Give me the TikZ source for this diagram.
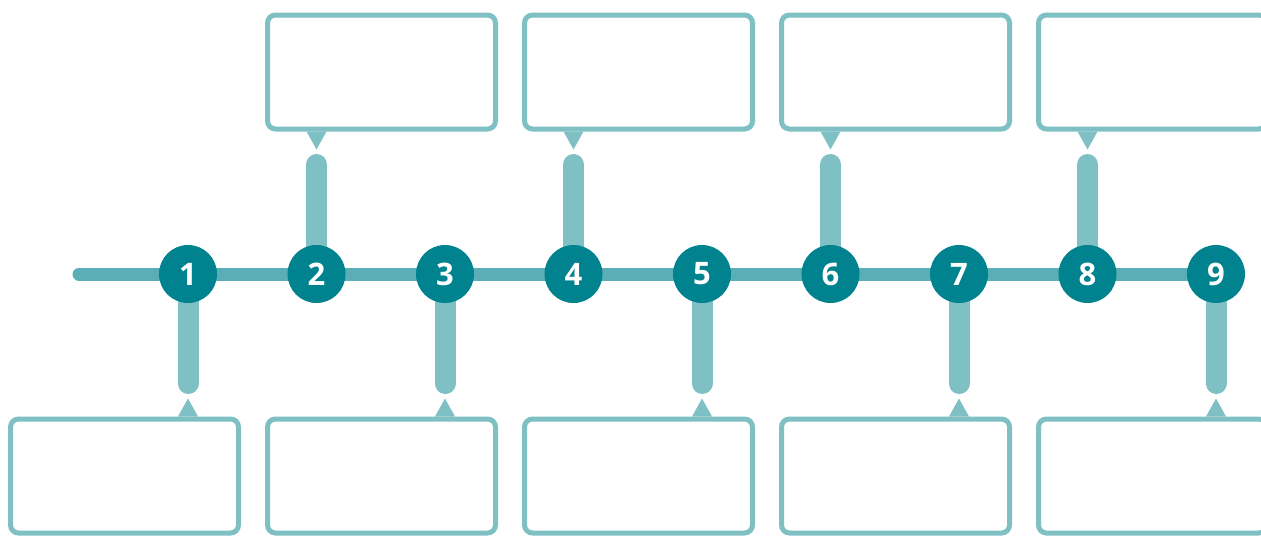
\documentclass[tikz,border=0pt]{standalone}
\usepackage{fontspec}
\usepackage{tikz}
\usetikzlibrary{calc,backgrounds}
\newfontfamily\numfont{Open Sans}
\definecolor{tealdark}{RGB}{0,130,143}
\definecolor{tealline}{RGB}{90,174,181}
\definecolor{teallight}{RGB}{127,192,197}

\begin{document}
\begin{tikzpicture}[x=1pt,y=-1pt,
  stepdot/.style={circle,fill=tealdark,minimum size=58pt,inner sep=0pt,text=white,
    font=\numfont\bfseries\fontsize{31}{31}\selectfont},
  callout/.style={draw=teallight,line width=5pt,rounded corners=8pt,fill=white,
    minimum width=228pt,minimum height=114pt,inner sep=0pt},
  stem/.style={teallight,line width=21pt,line cap=round},
  pointer/.style={fill=teallight}]
\useasboundingbox (0,0) rectangle (1261,536);

%Step circles on the time line
\foreach \i in {1,...,9}
  \node[stepdot] (c\i) at ({188+(\i-1)*128.5},274) {\i};

%Call-out boxes, odd steps below and even steps above
\foreach \i in {1,...,9} {
  \pgfmathtruncatemacro{\col}{\i/2}
  \pgfmathtruncatemacro{\up}{1-mod(\i,2)}
  \ifnum\up=1
    \node[callout] (b\i) at ({124.5+257*\col},72) {};
    \coordinate (t\i) at (c\i |- b\i.south);
    \fill[pointer] (t\i) ++(-10,0) -- ++(10,18) -- ++(10,-18) -- cycle;
    \coordinate (s\i) at ($(t\i)+(0,33)$);
  \else
    \node[callout] (b\i) at ({124.5+257*\col},476) {};
    \coordinate (t\i) at (c\i |- b\i.north);
    \fill[pointer] (t\i) ++(-10,0) -- ++(10,-18) -- ++(10,18) -- cycle;
    \coordinate (s\i) at ($(t\i)+(0,-33)$);
  \fi
}

%Time line and stems
\coordinate (start) at (79,274);
\begin{scope}[on background layer]
  \draw[tealline,line width=13pt,line cap=round] (start) -- (c9.center);
  \foreach \i in {1,...,9}
    \draw[stem] (c\i.center) -- (s\i);
\end{scope}

\end{tikzpicture}
\end{document}
